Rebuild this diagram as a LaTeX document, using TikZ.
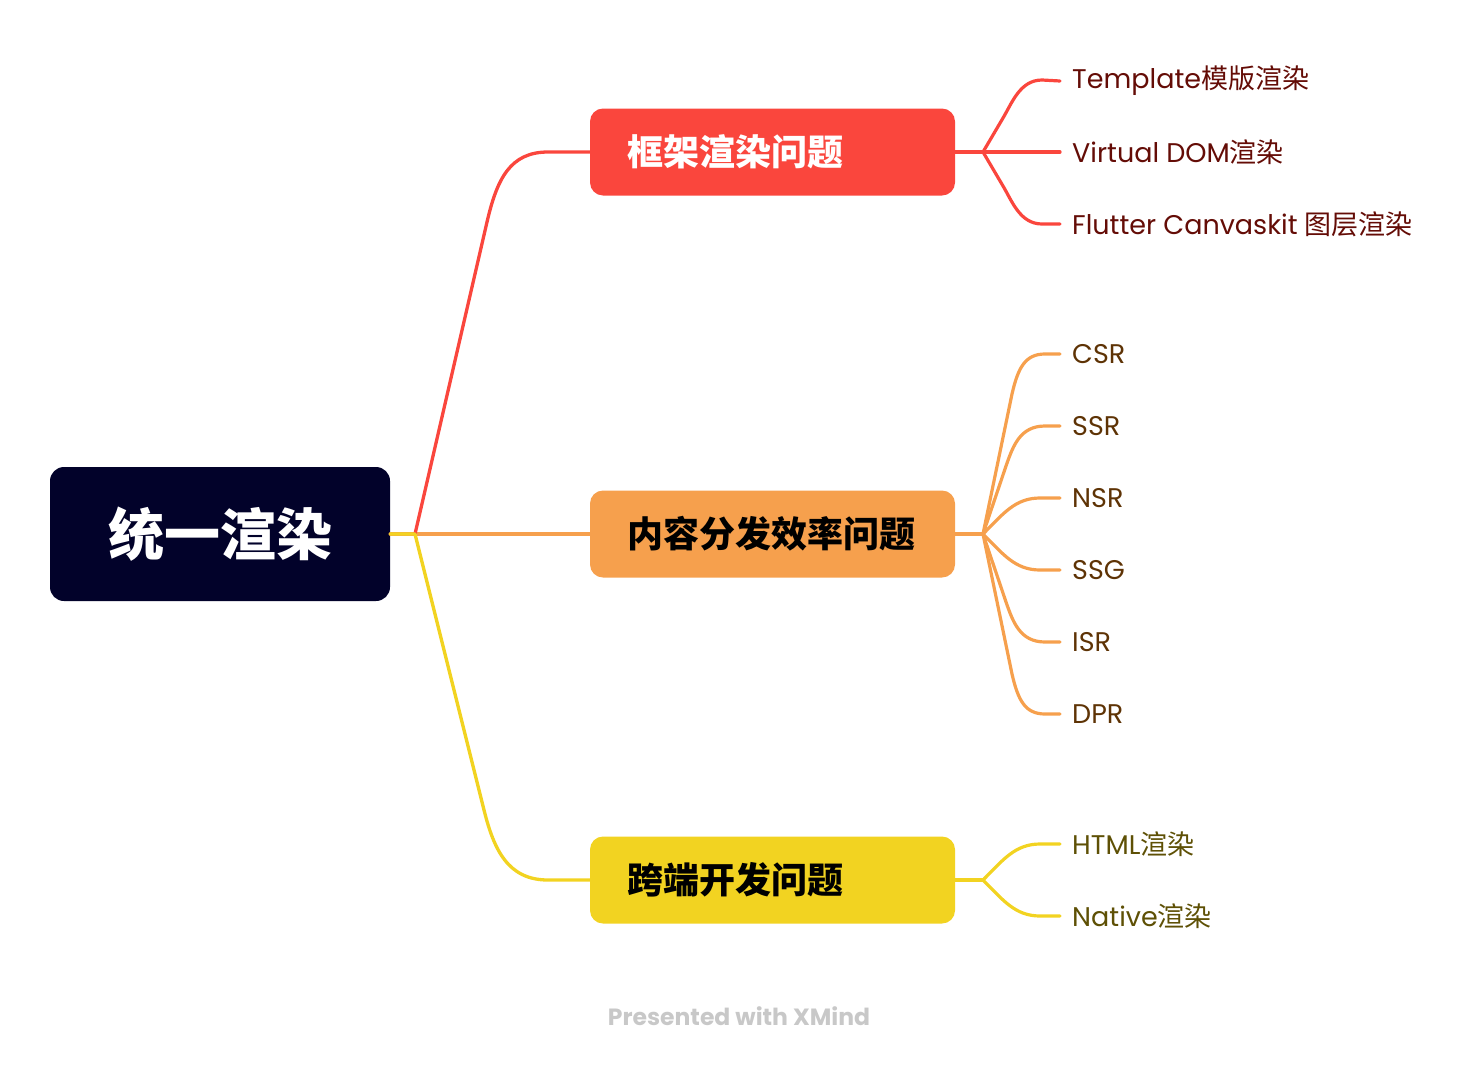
\documentclass[tikz,border=0pt]{standalone}
\usepackage{fontspec}
\setmainfont{Poppins}
\newfontfamily\cjk{Noto Sans CJK SC}
\definecolor{rootc}{RGB}{2,2,42}
\definecolor{redc}{RGB}{250,70,61}
\definecolor{orac}{RGB}{246,160,77}
\definecolor{yelc}{RGB}{242,211,33}
\definecolor{redt}{RGB}{100,12,6}
\definecolor{orat}{RGB}{94,51,5}
\definecolor{yelt}{RGB}{94,80,5}
\definecolor{wmc}{RGB}{200,200,200}
\begin{document}
\begin{tikzpicture}[x=1pt,y=-1pt,
  rootbox/.style={fill=rootc, rounded corners=14pt, minimum width=340pt, minimum height=134pt, inner sep=0pt, text=white, font=\cjk\bfseries\fontsize{56}{60}\selectfont},
  topic/.style={rounded corners=13pt, text width=291pt, inner xsep=37pt, inner ysep=0pt, minimum height=87pt, align=left, font=\cjk\bfseries\fontsize{36}{40}\selectfont},
  leaf/.style={anchor=west, inner sep=0pt, font=\fontsize{27}{30}\selectfont},
  conn/.style={line width=3.3pt, line cap=round, line join=round},
  subconn/.style={line width=3.2pt, line cap=round, line join=round}
]
\useasboundingbox (0,0) rectangle (1478,1066);

% nodes
\node[rootbox] (root) at (220,534) {统一渲染};
\node[topic, fill=redc, text=white] (t1) at (772.5,152) {框架渲染问题};
\node[topic, fill=orac, text=black] (t2) at (772.5,534) {内容分发效率问题};
\node[topic, fill=yelc, text=black] (t3) at (772.5,880) {跨端开发问题};

\node[leaf, text=redt] (a1) at (1072,81) {Template{\cjk 模版渲染}};
\node[leaf, text=redt] (a2) at (1072,152) {Virtual DOM{\cjk 渲染}};
\node[leaf, text=redt] (a3) at (1072,224) {Flutter Canvaskit {\cjk 图层渲染}};

\node[leaf, text=orat] (b1) at (1072,354) {CSR};
\node[leaf, text=orat] (b2) at (1072,426) {SSR};
\node[leaf, text=orat] (b3) at (1072,498) {NSR};
\node[leaf, text=orat] (b4) at (1072,570) {SSG};
\node[leaf, text=orat] (b5) at (1072,642) {ISR};
\node[leaf, text=orat] (b6) at (1072,714) {DPR};

\node[leaf, text=yelt] (c1) at (1072,844) {HTML{\cjk 渲染}};
\node[leaf, text=yelt] (c2) at (1072,916) {Native{\cjk 渲染}};

\node[font=\bfseries\fontsize{23.5}{26}\selectfont, text=wmc, inner sep=0pt] (wm) at (739,1016) {Presented with XMind};

% junctions
\coordinate (j0) at (415,534);
\coordinate (ja) at (983,152);
\coordinate (jb) at (983,534);
\coordinate (jc) at (983,880);

% main connectors
\draw[conn, orac] (root.east) -- (j0) -- (t2.west);
\draw[conn, redc] (j0) -- (487,222) .. controls (497,179) and (510,152) .. (548,152) -- (t1.west);
\draw[conn, yelc] (root.east) -- (j0) -- (484,810) .. controls (494,850) and (508,880) .. (548,880) -- (t3.west);

% red sub connectors
\draw[subconn, redc] (t1.east) -- (ja);
\draw[subconn, redc] (ja) -- (1003,118) .. controls (1012,103) and (1020,80) .. (1042,80) -- ([xshift=-12pt]a1.west);
\draw[subconn, redc] (ja) -- ([xshift=-12pt]a2.west);
\draw[subconn, redc] (ja) -- (1003,186) .. controls (1012,201) and (1020,224) .. (1042,224) -- ([xshift=-12pt]a3.west);

% orange sub connectors
\draw[subconn, orac] (t2.east) -- (jb);
\draw[subconn, orac] (jb) -- (1012,394) .. controls (1018,368) and (1025,354) .. (1045,354) -- ([xshift=-12pt]b1.west);
\draw[subconn, orac] (jb) -- (1006,466) .. controls (1013,446) and (1020,426) .. (1045,426) -- ([xshift=-12pt]b2.west);
\draw[subconn, orac] (jb) .. controls (1003,514) and (1015,498) .. (1040,498) -- ([xshift=-12pt]b3.west);
\draw[subconn, orac] (jb) .. controls (1003,554) and (1015,570) .. (1040,570) -- ([xshift=-12pt]b4.west);
\draw[subconn, orac] (jb) -- (1006,602) .. controls (1013,622) and (1020,642) .. (1045,642) -- ([xshift=-12pt]b5.west);
\draw[subconn, orac] (jb) -- (1012,674) .. controls (1018,700) and (1025,714) .. (1045,714) -- ([xshift=-12pt]b6.west);

% yellow sub connectors
\draw[subconn, yelc] (t3.east) -- (jc);
\draw[subconn, yelc] (jc) .. controls (1003,860) and (1015,844) .. (1040,844) -- ([xshift=-12pt]c1.west);
\draw[subconn, yelc] (jc) .. controls (1003,900) and (1015,916) .. (1040,916) -- ([xshift=-12pt]c2.west);
\end{tikzpicture}
\end{document}
